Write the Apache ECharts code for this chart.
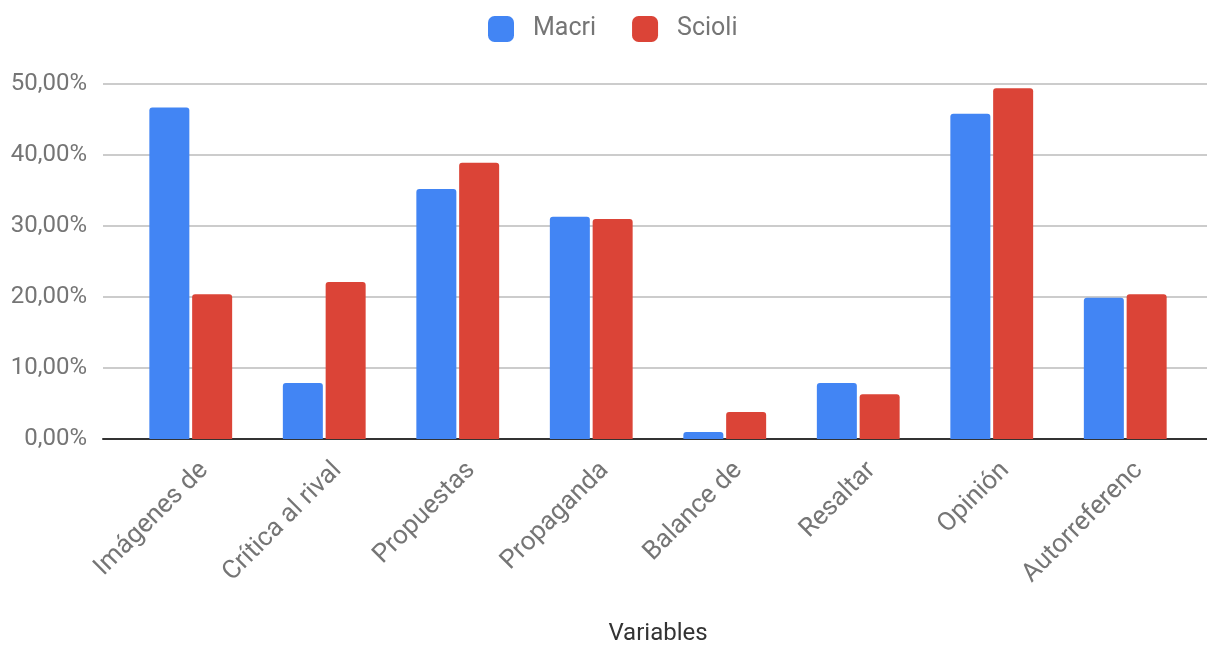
<!DOCTYPE html>
<html>
<head>
<meta charset="utf-8">
<script src="https://cdn.jsdelivr.net/npm/echarts@6/dist/echarts.min.js"></script>
<style>
  html, body { margin: 0; padding: 0; background: #fff; }
  #chart { width: 1207px; height: 646px; }
</style>
</head>
<body>
<div id="chart"></div>
<script>
// Categories and values (percent)
const categories = ['Imágenes de', 'Crítica al rival', 'Propuestas', 'Propaganda', 'Balance de', 'Resaltar', 'Opinión', 'Autorreferenc'];
const macri  = [46.7, 7.9, 35.2, 31.3, 1.0, 7.9, 45.8, 19.9];
const scioli = [20.4, 22.1, 38.9, 31.0, 3.8, 6.3, 49.4, 20.4];
const seriesNames = ['Macri', 'Scioli'];
const yTicks = [0, 10, 20, 30, 40, 50];

const FONT = 'Roboto, "Noto Sans", sans-serif';
const LABEL_GREY = '#757575';

const yMin = yTicks[0];
const yMax = yTicks[yTicks.length - 1];
const yStep = yTicks[1] - yTicks[0];

const fmt = v => v.toFixed(2).replace('.', ',') + '%';

const chart = echarts.init(document.getElementById('chart'), null, { renderer: 'canvas' });

chart.setOption({
  animation: false,
  backgroundColor: '#ffffff',
  textStyle: { fontFamily: FONT },
  legend: {
    data: seriesNames,
    top: 16,
    left: 488,
    padding: 0,
    icon: 'roundRect',
    itemWidth: 26,
    itemHeight: 26,
    itemGap: 36,
    textStyle: { fontSize: 25, color: LABEL_GREY, fontFamily: FONT, padding: [0, 0, 0, 14] }
  },
  grid: [
    // gridlines and baseline span the full width
    { left: 103, right: 0, top: 84, bottom: 207, containLabel: false, outerBoundsMode: 'none' },
    // bars
    { left: 124, right: 15, top: 84, bottom: 207, containLabel: false, outerBoundsMode: 'none' }
  ],
  xAxis: [
    {
      gridIndex: 0, type: 'value', min: 0, max: 1,
      axisLine: { show: true, lineStyle: { color: '#333', width: 2 } },
      axisTick: { show: false }, axisLabel: { show: false }, splitLine: { show: false }
    },
    {
      gridIndex: 1, type: 'category', data: categories,
      axisLine: { show: false }, axisTick: { show: false },
      axisLabel: {
        interval: 0, rotate: 45, fontSize: 26, color: LABEL_GREY,
        fontFamily: FONT, margin: 14, verticalAlign: 'top', padding: [6, 0, 0, 0]
      },
      name: 'Variables', nameLocation: 'middle', nameGap: 183,
      nameTextStyle: { fontSize: 24, color: '#333', fontFamily: FONT }
    }
  ],
  yAxis: [
    {
      gridIndex: 0, type: 'value', min: yMin, max: yMax, interval: yStep,
      axisLine: { show: false }, axisTick: { show: false },
      axisLabel: { fontSize: 24, color: LABEL_GREY, fontFamily: FONT, margin: 16, formatter: fmt },
      splitLine: { lineStyle: { color: '#cccccc', width: 2 } }
    },
    {
      gridIndex: 1, type: 'value', min: yMin, max: yMax, interval: yStep,
      axisLine: { show: false }, axisTick: { show: false },
      axisLabel: { show: false }, splitLine: { show: false }
    }
  ],
  series: [
    {
      name: seriesNames[0], type: 'bar', xAxisIndex: 1, yAxisIndex: 1,
      data: macri, barWidth: 40, barGap: '7%',
      itemStyle: { color: '#4285F4', borderRadius: [3, 3, 0, 0] }
    },
    {
      name: seriesNames[1], type: 'bar', xAxisIndex: 1, yAxisIndex: 1,
      data: scioli, barWidth: 40, barGap: '7%',
      itemStyle: { color: '#DB4437', borderRadius: [3, 3, 0, 0] }
    }
  ]
});
</script>
</body>
</html>
